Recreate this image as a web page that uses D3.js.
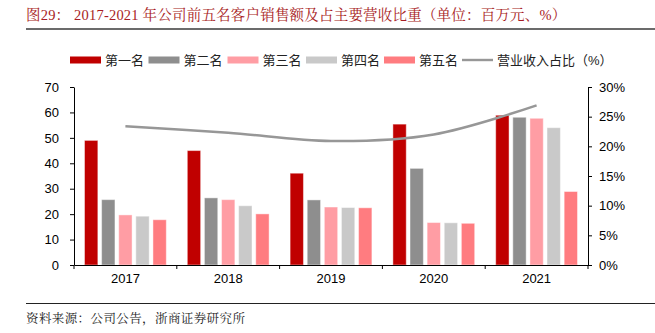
<!DOCTYPE html>
<html>
<head>
<meta charset="utf-8">
<script src="https://cdn.jsdelivr.net/npm/d3@7/dist/d3.min.js"></script>
<style>
  html, body { margin: 0; padding: 0; background: #fff; }
  svg { display: block; }
  .axis path, .axis line { stroke: #000; }
  .axis text { font-family: "Liberation Sans", Arial, sans-serif; font-size: 13px; fill: #000; }
</style>
</head>
<body>
<div id="chart"></div>
<script>
const years = ["2017", "2018", "2019", "2020", "2021"];
const seriesNames = ["第一名", "第二名", "第三名", "第四名", "第五名"];
const first = [49.0, 45.0, 36.1, 55.4, 58.9];
const second = [25.7, 26.4, 25.6, 38.0, 58.1];
const third = [19.7, 25.7, 22.8, 16.7, 57.7];
const fourth = [19.2, 23.3, 22.6, 16.6, 54.0];
const fifth = [17.8, 20.1, 22.5, 16.4, 28.9];
const shareRatio = [0.234, 0.223, 0.209, 0.220, 0.269];
const leftTicks = [0, 10, 20, 30, 40, 50, 60, 70];
const rightTicks = [0, 0.05, 0.1, 0.15, 0.2, 0.25, 0.3];

const colors = ["#C00000", "#8E8E8E", "#FF9DA4", "#C9C9C9", "#FF7C80"];
const lineColor = "#979797";
const lineName = "营业收入占比（%）";

const width = 655, height = 333;
const margin = { left: 74, right: 67, top: 87, bottom: 68 };
const plotBottom = height - margin.bottom;

const svg = d3.select("#chart").append("svg").attr("width", width).attr("height", height);

// title block
svg.append("text")
  .attr("x", 26).attr("y", 20)
  .attr("fill", "#A81C24")
  .style("font-family", "'Liberation Serif', 'Noto Serif CJK SC', 'Noto Sans CJK SC', serif")
  .style("font-size", "14.5px")
  .style("letter-spacing", "0.2px")
  .text("图29：  2017-2021 年公司前五名客户销售额及占主要营收比重（单位：百万元、%）");
svg.append("line").attr("x1", 26).attr("x2", 655).attr("y1", 29).attr("y2", 29)
  .attr("stroke", "#6b6b6b").attr("stroke-width", 2);

// footer
svg.append("line").attr("x1", 26).attr("x2", 655).attr("y1", 303.5).attr("y2", 303.5)
  .attr("stroke", "#222").attr("stroke-width", 1);
svg.append("text")
  .attr("x", 26).attr("y", 323)
  .attr("fill", "#222")
  .style("font-family", "'Noto Serif CJK SC', 'Noto Sans CJK SC', serif")
  .style("font-size", "12.5px")
  .style("letter-spacing", "0.4px")
  .text("资料来源：公司公告，浙商证券研究所");

const x = d3.scaleBand().domain(years).range([margin.left, width - margin.right]).padding(0);
const xInner = d3.scaleBand().domain(seriesNames).range([10.5, x.bandwidth() - 10.5]).paddingInner(0.22);
const y = d3.scaleLinear().domain([0, 70]).range([plotBottom, margin.top]);
const yRight = d3.scaleLinear().domain([0, 0.3]).range([plotBottom, margin.top]);

const allSeries = [first, second, third, fourth, fifth];
const table = years.map((year, i) => ({
  year,
  values: seriesNames.map((name, k) => ({ name, value: allSeries[k][i], color: colors[k] })),
}));

// bars
const groups = svg.append("g").selectAll("g").data(table).enter().append("g")
  .attr("transform", (d) => `translate(${x(d.year)},0)`);
groups.selectAll("rect").data((d) => d.values).enter().append("rect")
  .attr("x", (d) => xInner(d.name))
  .attr("width", xInner.bandwidth())
  .attr("y", (d) => y(d.value))
  .attr("height", (d) => plotBottom - y(d.value))
  .attr("fill", (d) => d.color)
  .attr("stroke", "rgba(255,255,255,0.45)")
  .attr("stroke-width", 1);

// share line
const line = d3.line()
  .x((_, i) => x(years[i]) + x.bandwidth() / 2)
  .y((d) => yRight(d))
  .curve(d3.curveCatmullRom.alpha(0.5));
svg.append("path").datum(shareRatio).attr("d", line)
  .attr("fill", "none").attr("stroke", lineColor).attr("stroke-width", 2.5);

// axes
const xAxis = svg.append("g").attr("class", "axis")
  .attr("transform", `translate(0,${plotBottom})`)
  .call(d3.axisBottom(x).tickSize(0).tickPadding(9));
xAxis.selectAll(".tick text").attr("dy", "0.71em");
xAxis.selectAll(".bound").data(d3.range(years.length + 1)).enter().append("line")
  .attr("x1", (i) => margin.left + i * x.step()).attr("x2", (i) => margin.left + i * x.step())
  .attr("y1", 0).attr("y2", 4).attr("stroke", "#000");

svg.append("g").attr("class", "axis")
  .attr("transform", `translate(${margin.left},0)`)
  .call(d3.axisLeft(y).tickValues(leftTicks).tickSizeInner(4).tickSizeOuter(0).tickPadding(11));

svg.append("g").attr("class", "axis")
  .attr("transform", `translate(${width - margin.right},0)`)
  .call(d3.axisRight(yRight).tickValues(rightTicks).tickFormat(d3.format(".0%")).tickSizeInner(4).tickSizeOuter(0).tickPadding(7));

// legend
const legendItems = [
  { label: "第一名", color: colors[0], x: 70, type: "bar" },
  { label: "第二名", color: colors[1], x: 148.5, type: "bar" },
  { label: "第三名", color: colors[2], x: 227.5, type: "bar" },
  { label: "第四名", color: colors[3], x: 306, type: "bar" },
  { label: "第五名", color: colors[4], x: 384, type: "bar" },
  { label: lineName, color: lineColor, x: 462, type: "line" },
];
const legend = svg.append("g").selectAll("g").data(legendItems).enter().append("g")
  .attr("transform", (d) => `translate(${d.x},60)`);
legend.append("rect")
  .attr("x", 0).attr("width", 31)
  .attr("y", (d) => d.type === "bar" ? -3.5 : -1.2)
  .attr("height", (d) => d.type === "bar" ? 7 : 2.4)
  .attr("fill", (d) => d.color);
legend.append("text")
  .attr("x", 35).attr("y", 0).attr("dy", "0.36em")
  .style("font-family", "'Liberation Sans', 'Noto Sans CJK SC', sans-serif")
  .style("font-size", "13px")
  .attr("fill", "#222")
  .text((d) => d.label);
</script>
</body>
</html>
